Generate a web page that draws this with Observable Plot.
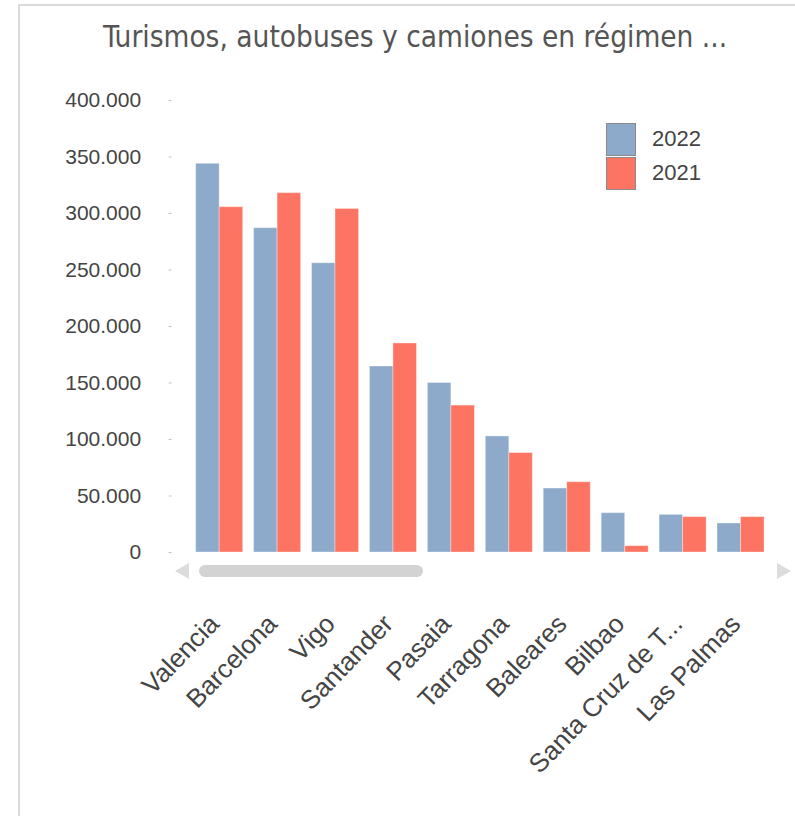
<!DOCTYPE html>
<html>
<head>
<meta charset="utf-8">
<script src="https://cdn.jsdelivr.net/npm/d3@7"></script>
<script src="https://cdn.jsdelivr.net/npm/@observablehq/plot@0.6"></script>
<style>
  html, body { margin: 0; padding: 0; background: #fff; }
  #wrap { position: relative; width: 795px; height: 816px; overflow: hidden; background: #fff; }
  #frame { position: absolute; left: 18px; top: 4px; width: 800px; height: 820px;
           border-left: 2px solid #dadada; border-top: 2px solid #dadada; }
  #title { position: absolute; left: 0; top: 20px; width: 830px; text-align: center;
           font-family: "DejaVu Sans Condensed", "DejaVu Sans", sans-serif; font-size: 29.5px; color: #555; white-space: nowrap; }
  #chart { position: absolute; left: 0; top: 0; }
  #legend { position: absolute; left: 606px; top: 122px; font-family: "Liberation Sans", Arial, sans-serif; font-size: 22px; color: #444; }
  .lrow { display: flex; align-items: center; height: 34px; }
  .sw { width: 30px; height: 33px; box-sizing: border-box; border: 1px solid #8a8a8a; margin-right: 16px; }
  #scroll { position: absolute; left: 199px; top: 565px; width: 224px; height: 12px; border-radius: 6px; background: #d3d3d3; }
  #arrowL { position: absolute; left: 175px; top: 563px; width: 0; height: 0;
            border-top: 8px solid transparent; border-bottom: 8px solid transparent; border-right: 14px solid #dcdcdc; }
  #arrowR { position: absolute; left: 777px; top: 563px; width: 0; height: 0;
            border-top: 8px solid transparent; border-bottom: 8px solid transparent; border-left: 14px solid #dcdcdc; }
</style>
</head>
<body>
<div id="wrap">
  <div id="frame"></div>
  <div id="title">Turismos, autobuses y camiones en régimen ...</div>
  <div id="chart"></div>
  <div id="legend"></div>
  <div id="arrowL"></div>
  <div id="scroll"></div>
  <div id="arrowR"></div>
</div>
<script>
const ports = ["Valencia", "Barcelona", "Vigo", "Santander", "Pasaia", "Tarragona", "Baleares", "Bilbao", "Santa Cruz de T...", "Las Palmas"];
const years = ["2022", "2021"];
const values2022 = [344000, 287000, 256000, 164600, 150000, 102700, 56600, 34800, 33300, 25700];
const values2021 = [305600, 318000, 304000, 185000, 130000, 88000, 62200, 5600, 31300, 31300];
const yTicks = [0, 50000, 100000, 150000, 200000, 250000, 300000, 350000, 400000];
const colors = ["#8eaacb", "#fd7462"];

const data = [];
ports.forEach((p, i) => {
  data.push({port: p, year: years[0], value: values2022[i]});
  data.push({port: p, year: years[1], value: values2021[i]});
});

const locale = d3.formatLocale({decimal: ",", thousands: ".", grouping: [3], currency: ["", "€"]});
const fmt = locale.format(",d");

const chart = Plot.plot({
  width: 795,
  height: 816,
  marginTop: 100,
  marginBottom: 264,
  marginLeft: 190.2,
  marginRight: 25.5,
  style: {background: "transparent", fontFamily: "Liberation Sans, Arial, sans-serif", overflow: "visible"},
  fx: {domain: ports, paddingInner: 0.188, paddingOuter: 0.094, round: false, label: null, axis: null},
  x: {domain: years, padding: 0, round: false, axis: null},
  y: {domain: [0, 400000], axis: null},
  color: {domain: years, range: colors},
  marks: [
    Plot.barY(data, {fx: "port", x: "year", y: "value", fill: "year", stroke: "#ffffff", strokeOpacity: 0.35, strokeWidth: 1}),
    Plot.axisY({ticks: yTicks, tickFormat: fmt, tickSize: 0, tickPadding: 55, fontSize: 21, fill: "#444", label: null, style: "letter-spacing:1.2px"}),
    Plot.axisY({ticks: yTicks, tickFormat: () => "", tickSize: 3, dx: -24, stroke: "#c4c4c4", label: null}),
    Plot.axisFx({anchor: "bottom", tickRotate: -46, tickSize: 0, tickPadding: 50, dx: -5, dy: 17, fontSize: 26, fill: "#444", label: null})
  ]
});
document.getElementById("chart").appendChild(chart);

const legend = document.getElementById("legend");
years.forEach((y, i) => {
  const row = document.createElement("div");
  row.className = "lrow";
  const sw = document.createElement("div");
  sw.className = "sw";
  sw.style.background = colors[i];
  const t = document.createElement("span");
  t.textContent = y;
  row.appendChild(sw);
  row.appendChild(t);
  legend.appendChild(row);
});
</script>
</body>
</html>
